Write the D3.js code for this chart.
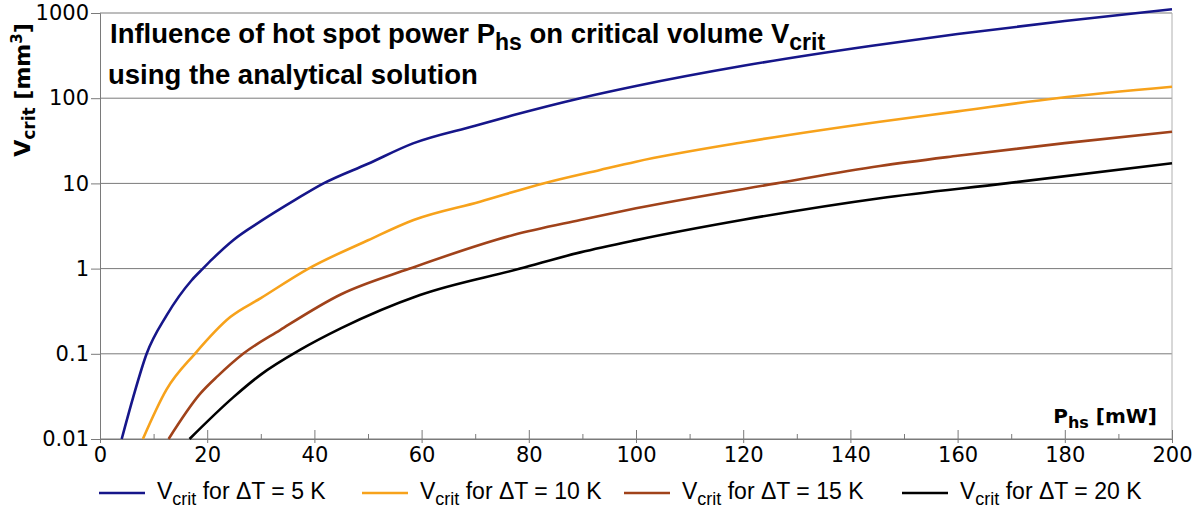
<!DOCTYPE html>
<html>
<head>
<meta charset="utf-8">
<script src="https://cdn.jsdelivr.net/npm/d3@7"></script>
<style>
  body { margin: 0; background: #fff; }
  svg { display: block; }
</style>
</head>
<body>
<div id="container"></div>
<script>
/* DATA */

// hot spot power P_hs [mW] and critical volume V_crit [mm3] per curve
var p5  = [4.05, 6.2, 8.7, 12.4, 17.1, 19.2, 21, 24.9, 30, 36.4, 41.7, 50, 58.4, 70, 77, 89.6, 100, 120, 143.7, 160, 180, 200];
var v5  = [0.01, 0.031, 0.1, 0.28, 0.73, 1.0, 1.3, 2.17, 3.6, 6.4, 10, 17, 29.5, 47.5, 63, 100, 139, 240, 410, 566, 806, 1105];

var p10 = [8.0, 12.4, 17.7, 24.3, 30, 38.9, 50, 58.5, 70.9, 82.7, 93.3, 100, 120, 145.5, 160, 178.5, 200];
var v10 = [0.01, 0.038, 0.1, 0.27, 0.45, 1.0, 2.15, 3.72, 6.1, 10, 14.4, 18, 30.4, 53, 70, 100, 136];

var p15 = [12.8, 18.7, 22, 26.7, 33.6, 45, 57.8, 77.1, 89.6, 100, 126.2, 145.5, 160, 180, 200];
var v15 = [0.01, 0.034, 0.055, 0.1, 0.19, 0.5, 1.0, 2.48, 3.72, 5.1, 10, 16, 21.1, 29.7, 40.4];

var p20 = [16.7, 24.9, 30, 37.3, 45, 59.7, 78.4, 89.6, 100, 120, 145.5, 169, 200];
var v20 = [0.01, 0.031, 0.057, 0.111, 0.2, 0.49, 1.0, 1.55, 2.16, 3.74, 6.7, 10, 17.2];

var seriesDT = ["5", "10", "15", "20"];
var seriesColors = ["#16168a", "#f7a21b", "#a0421a", "#000000"];

var xMajorTicks = [0, 20, 40, 60, 80, 100, 120, 140, 160, 180, 200];
var xMinorTicks = [10, 30, 50, 70, 90, 110, 130, 150, 170, 190];
var yTicks = [0.01, 0.1, 1, 10, 100, 1000];
var yTickLabels = ["0.01", "0.1", "1", "10", "100", "1000"];

/* CONSTANTS */
var width = 1200, height = 511;
var plotLeft = 100, plotRight = 1172, plotTop = 13, plotBottom = 439;

var svg = d3.select("#container")
  .append("svg")
  .attr("width", width)
  .attr("height", height)
  .style("font-family", "'DejaVu Sans', sans-serif");

// SCALES
var x = d3.scaleLinear().domain([0, 200]).range([plotLeft, plotRight]);
var y = d3.scaleLog().domain([0.01, 1000]).range([plotBottom, plotTop]);

// gridlines
svg.append("g")
  .selectAll("line")
  .data(yTicks)
  .enter()
  .append("line")
  .attr("x1", plotLeft)
  .attr("x2", plotRight)
  .attr("y1", d => y(d))
  .attr("y2", d => y(d))
  .attr("stroke", "#7a7a7a")
  .attr("stroke-width", 1);

// right border
svg.append("line")
  .attr("x1", plotRight).attr("x2", plotRight)
  .attr("y1", plotTop).attr("y2", plotBottom)
  .attr("stroke", "#b0b0b0");

// y axis
var yAxis = svg.append("g")
  .attr("transform", "translate(" + plotLeft + ",0)")
  .call(d3.axisLeft(y)
    .tickValues(yTicks)
    .tickFormat((d, i) => yTickLabels[i])
    .tickSize(9)
    .tickPadding(2));
yAxis.select(".domain").attr("stroke", "#7a7a7a");
yAxis.selectAll(".tick line").attr("stroke", "#7a7a7a");
yAxis.selectAll("text")
  .style("font-size", "21px")
  .style("font-family", "'DejaVu Sans', sans-serif")
  .attr("fill", "#000");

// x axis
var xAxis = svg.append("g")
  .attr("transform", "translate(0," + plotBottom + ")")
  .call(d3.axisBottom(x)
    .tickValues(xMajorTicks)
    .tickSize(4)
    .tickPadding(4));
xAxis.select(".domain").attr("stroke", "#7a7a7a");
xAxis.selectAll(".tick line").attr("y1", -9).attr("stroke", "#7a7a7a");
xAxis.selectAll("text")
  .style("font-size", "21px")
  .style("font-family", "'DejaVu Sans', sans-serif")
  .attr("fill", "#000");

// minor x ticks
var xMinor = svg.append("g")
  .attr("transform", "translate(0," + plotBottom + ")")
  .call(d3.axisBottom(x).tickValues(xMinorTicks).tickSize(-5).tickFormat(""));
xMinor.select(".domain").remove();
xMinor.selectAll(".tick line").attr("stroke", "#7a7a7a");

// CURVES
var allP = [p5, p10, p15, p20];
var allV = [v5, v10, v15, v20];

var line = d3.line()
  .x(d => x(d[0]))
  .y(d => y(d[1]))
  .curve(d3.curveMonotoneX);

allP.forEach(function (ps, i) {
  var pts = ps.map((p, j) => [p, allV[i][j]]);
  svg.append("path")
    .datum(pts)
    .attr("fill", "none")
    .attr("stroke", seriesColors[i])
    .attr("stroke-width", 2.6)
    .attr("stroke-linejoin", "round")
    .attr("d", line);
});

// TITLE
var title = svg.append("text")
  .attr("x", 110)
  .attr("y", 43)
  .style("font-family", "'Liberation Sans', Arial, sans-serif")
  .style("font-weight", "bold")
  .style("font-size", "27.5px")
  .attr("fill", "#000");
title.append("tspan").text("Influence of hot spot power P");
title.append("tspan").attr("dy", 7).style("font-size", "23px").text("hs");
title.append("tspan").attr("dy", -7).text(" on critical volume V");
title.append("tspan").attr("dy", 7).style("font-size", "23px").text("crit");

svg.append("text")
  .attr("x", 108)
  .attr("y", 84)
  .style("font-family", "'Liberation Sans', Arial, sans-serif")
  .style("font-weight", "bold")
  .style("font-size", "27.5px")
  .attr("fill", "#000")
  .text("using the analytical solution");

// AXIS LABELS
var xl = svg.append("text")
  .attr("x", 1157)
  .attr("y", 423)
  .attr("text-anchor", "end")
  .style("font-weight", "bold")
  .style("font-size", "20px")
  .attr("fill", "#000");
xl.append("tspan").text("P");
xl.append("tspan").attr("dy", 5).style("font-size", "16px").text("hs");
xl.append("tspan").attr("dy", -5).text(" [mW]");

var yl = svg.append("text")
  .attr("transform", "translate(30,90) rotate(-90)")
  .attr("text-anchor", "middle")
  .style("font-weight", "bold")
  .style("font-size", "22px")
  .attr("fill", "#000");
yl.append("tspan").text("V");
yl.append("tspan").attr("dy", 5).style("font-size", "17px").text("crit");
yl.append("tspan").attr("dy", -5).text(" [mm");
yl.append("tspan").attr("dy", -8).style("font-size", "15px").text("3");
yl.append("tspan").attr("dy", 8).text("]");

// LEGEND
var legendX = [157, 420, 682, 960];
var legend = svg.append("g")
  .selectAll("g")
  .data(seriesDT)
  .enter()
  .append("g")
  .attr("transform", (d, i) => "translate(" + legendX[i] + ",0)");

legend.append("line")
  .attr("x1", -58)
  .attr("x2", -12)
  .attr("y1", 493)
  .attr("y2", 493)
  .attr("stroke", (d, i) => seriesColors[i])
  .attr("stroke-width", 2.6);

var lt = legend.append("text")
  .attr("x", 0)
  .attr("y", 499)
  .style("font-family", "'Liberation Sans', Arial, sans-serif")
  .style("font-size", "23px")
  .attr("fill", "#000");
lt.append("tspan").text("V");
lt.append("tspan").attr("dy", 6).style("font-size", "18px").text("crit");
lt.append("tspan").attr("dy", -6).text(d => " for \u0394T = " + d + " K");
</script>
</body>
</html>
